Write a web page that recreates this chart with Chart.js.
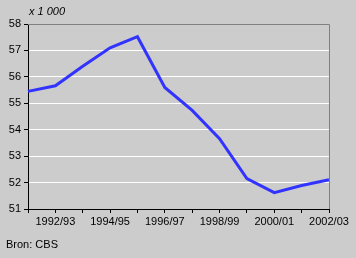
<!DOCTYPE html>
<html>
<head>
<meta charset="utf-8">
<script src="https://cdn.jsdelivr.net/npm/chart.js@4"></script>
<style>
  html, body { margin: 0; padding: 0; background: #cccccc; }
  #wrap { width: 356px; height: 258px; position: relative; }
</style>
</head>
<body>
<div id="wrap"><canvas id="chart" width="356" height="258"></canvas></div>
<script>
// schooljaren en waarden (x 1 000)
const years = ["1991/92", "1992/93", "1993/94", "1994/95", "1995/96", "1996/97",
               "1997/98", "1998/99", "1999/00", "2000/01", "2001/02", "2002/03"];
const values = [55.45, 55.66, 56.4, 57.1, 57.52, 55.6, 54.73, 53.66, 52.15, 51.62, 51.89, 52.11];
const yTicks = [51, 52, 53, 54, 55, 56, 57, 58];

const font = { family: "'Liberation Sans', Arial, sans-serif", size: 11 };

// extra tekst + kader rechts/boven
const extras = {
    id: "extras",
    afterDraw(chart) {
        const c = chart.ctx, a = chart.chartArea;
        c.save();
        c.strokeStyle = "#808080";
        c.lineWidth = 1;
        c.beginPath();
        c.moveTo(a.left, a.top + 0.5);
        c.lineTo(a.right + 0.5, a.top + 0.5);
        c.lineTo(a.right + 0.5, a.bottom);
        c.stroke();
        c.fillStyle = "#000";
        c.textBaseline = "middle";
        c.font = "italic 11px 'Liberation Sans', Arial, sans-serif";
        c.fillText("x 1 000", 29, 12);
        c.font = "11px 'Liberation Sans', Arial, sans-serif";
        c.fillText("Bron: CBS", 6, 245);
        c.restore();
    }
};

new Chart(document.getElementById("chart").getContext("2d"), {
    type: "line",
    data: {
        labels: years,
        datasets: [{
            data: values,
            borderColor: "#3333ff",
            borderWidth: 3,
            pointRadius: 0,
            tension: 0,
            fill: false
        }]
    },
    options: {
        responsive: false,
        animation: false,
        events: [],
        layout: { padding: { left: 0, right: 27, top: 24, bottom: 29 } },
        plugins: { legend: { display: false }, tooltip: { enabled: false } },
        scales: {
            x: {
                offset: false,
                grid: { drawOnChartArea: false, drawTicks: true, tickLength: 4, tickColor: "#000" },
                border: { color: "#000", width: 1 },
                ticks: {
                    color: "#000", font: font, autoSkip: false, maxRotation: 0, padding: 2,
                    callback: (v, i) => (i % 2 === 1 ? years[i] : "")
                },
                afterFit: s => { s.height = 20; }
            },
            y: {
                min: 51, max: 58,
                afterBuildTicks: s => { s.ticks = yTicks.map(v => ({ value: v })); },
                grid: {
                    color: ctx => (ctx.tick && ctx.tick.value === 58 ? "#808080" : "#ffffff"),
                    lineWidth: 1, drawTicks: true, tickLength: 4, tickColor: "#000"
                },
                border: { color: "#000", width: 1 },
                ticks: { color: "#000", font: font, padding: 3 },
                afterFit: s => { s.width = 28; }
            }
        }
    },
    plugins: [extras]
});
</script>
</body>
</html>
